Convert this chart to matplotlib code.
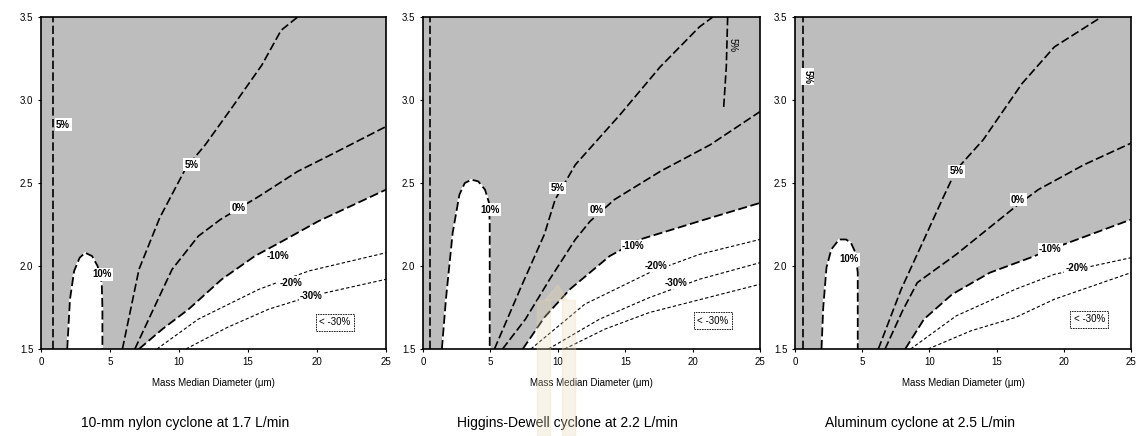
import matplotlib
matplotlib.use("Agg")
import matplotlib.pyplot as plt
from matplotlib.patches import Rectangle, Polygon

plt.rcParams['font.family'] = ['Liberation Sans', 'DejaVu Sans']

GRAY = '#bdbdbd'

titles = ['10-mm nylon cyclone at 1.7 L/min',
          'Higgins-Dewell cyclone at 2.2 L/min',
          'Aluminum cyclone at 2.5 L/min']
x_ticks = [0, 5, 10, 15, 20, 25]
y_ticks = [1.5, 2.0, 2.5, 3.0, 3.5]

# ---- panel 1: 10-mm nylon cyclone ----
p1_bubble_x = [1.9, 2.1, 2.4, 2.8, 3.2, 3.7, 4.1, 4.4, 4.45, 4.45]
p1_bubble_y = [1.5, 1.8, 1.97, 2.05, 2.08, 2.06, 2.0, 1.9, 1.75, 1.5]
p1_edge5_x = [0.85, 0.85]
p1_edge5_y = [1.5, 3.5]
p1_p5_x = [5.9, 7.1, 8.6, 9.8, 10.5, 11.9, 13.8, 16.0, 17.4, 18.6]
p1_p5_y = [1.5, 1.98, 2.29, 2.48, 2.59, 2.73, 2.95, 3.21, 3.42, 3.5]
p1_z0_x = [6.8, 8.2, 9.5, 11.4, 13.0, 15.8, 18.6, 21.0, 25.0]
p1_z0_y = [1.5, 1.75, 1.98, 2.18, 2.28, 2.42, 2.57, 2.67, 2.84]
p1_m10_x = [7.1, 8.8, 10.7, 13.1, 15.5, 17.5, 20.1, 25.0]
p1_m10_y = [1.5, 1.62, 1.74, 1.92, 2.06, 2.15, 2.27, 2.46]
p1_m20_x = [8.4, 11.4, 15.8, 19.4, 25.0]
p1_m20_y = [1.5, 1.68, 1.86, 1.97, 2.08]
p1_m30_x = [10.5, 13.5, 16.5, 19.6, 25.0]
p1_m30_y = [1.5, 1.63, 1.74, 1.82, 1.92]
p1_labels = ['5%', '5%', '0%', '-10%', '-20%', '-30%', '10%']
p1_label_x = [1.6, 10.9, 14.3, 17.2, 18.1, 19.6, 4.4]
p1_label_y = [2.85, 2.61, 2.35, 2.06, 1.9, 1.82, 1.95]
p1_box_xy = (21.3, 1.66)

# ---- panel 2: Higgins-Dewell cyclone ----
p2_bubble_x = [1.4, 1.7, 2.2, 2.7, 3.1, 3.6, 4.1, 4.6, 4.9, 4.95, 4.95]
p2_bubble_y = [1.5, 1.8, 2.2, 2.43, 2.5, 2.52, 2.51, 2.46, 2.38, 2.25, 1.5]
p2_edge5_x = [0.5, 0.5]
p2_edge5_y = [1.5, 3.5]
p2_top5_x = [22.6, 22.5, 22.3]
p2_top5_y = [3.5, 3.2, 2.95]
p2_p5_x = [5.3, 7.2, 9.0, 9.8, 11.3, 12.4, 14.6, 17.6, 20.5, 21.5]
p2_p5_y = [1.5, 1.86, 2.19, 2.4, 2.61, 2.71, 2.91, 3.2, 3.44, 3.5]
p2_z0_x = [5.9, 7.6, 9.4, 11.3, 12.4, 14.2, 17.6, 21.3, 25.0]
p2_z0_y = [1.5, 1.68, 1.92, 2.16, 2.27, 2.4, 2.57, 2.73, 2.93]
p2_m10_x = [7.4, 9.0, 10.9, 13.85, 16.1, 20.5, 25.0]
p2_m10_y = [1.5, 1.69, 1.86, 2.06, 2.16, 2.27, 2.38]
p2_m20_x = [8.0, 12.0, 16.8, 20.5, 25.0]
p2_m20_y = [1.5, 1.77, 1.96, 2.07, 2.16]
p2_m30_x = [9.3, 13.1, 16.8, 20.5, 25.0]
p2_m30_y = [1.5, 1.68, 1.81, 1.92, 2.02]
p2_m40_x = [10.5, 13.5, 16.8, 25.0]
p2_m40_y = [1.5, 1.62, 1.72, 1.89]
p2_labels = ['10%', '5%', '0%', '-10%', '-20%', '-30%']
p2_label_x = [4.96, 10.0, 12.9, 15.6, 17.3, 18.8]
p2_label_y = [2.34, 2.47, 2.34, 2.12, 2.0, 1.9]
p2_box_xy = (21.5, 1.67)

# ---- panel 3: Aluminum cyclone ----
p3_bubble_x = [1.97, 2.1, 2.34, 2.7, 3.28, 3.8, 4.16, 4.5, 4.67, 4.67]
p3_bubble_y = [1.5, 1.75, 1.99, 2.1, 2.16, 2.16, 2.14, 2.08, 1.96, 1.5]
p3_edge5_x = [0.6, 0.6]
p3_edge5_y = [1.5, 3.5]
p3_p5_x = [6.2, 7.9, 9.6, 10.95, 12.0, 14.0, 16.9, 19.3, 22.8]
p3_p5_y = [1.5, 1.86, 2.16, 2.4, 2.58, 2.76, 3.1, 3.32, 3.5]
p3_z0_x = [6.7, 8.0, 9.1, 12.0, 14.45, 16.6, 18.1, 21.5, 25.0]
p3_z0_y = [1.5, 1.73, 1.9, 2.07, 2.23, 2.37, 2.46, 2.61, 2.74]
p3_m10_x = [8.2, 9.6, 11.7, 14.5, 17.5, 20.0, 25.0]
p3_m10_y = [1.5, 1.68, 1.83, 1.96, 2.05, 2.13, 2.28]
p3_m20_x = [8.6, 12.0, 16.4, 19.3, 25.0]
p3_m20_y = [1.5, 1.7, 1.86, 1.95, 2.05]
p3_m30_x = [9.9, 13.1, 16.4, 19.3, 25.0]
p3_m30_y = [1.5, 1.61, 1.69, 1.8, 1.96]
p3_labels = ['10%', '5%', '0%', '-10%', '-20%']
p3_label_x = [4.0, 12.0, 16.6, 19.0, 21.0]
p3_label_y = [2.04, 2.57, 2.4, 2.1, 1.99]
p3_box_xy = (21.9, 1.68)

DASH = (0, (5, 2))
FINE = (0, (3, 2))


def draw_panel(ax, bubble_x, bubble_y, m10_x, m10_y, strong, faint,
               labels, label_x, label_y, box_xy):
    ax.set_facecolor(GRAY)
    # white areas: bias above +10% (bubble) and below -10%
    ax.fill_between(m10_x, m10_y, 1.5, color='white', zorder=1)
    ax.fill(bubble_x, bubble_y, color='white', zorder=1)
    ax.plot(bubble_x, bubble_y, color='black', lw=1.3, ls=DASH, zorder=3)
    ax.plot(m10_x, m10_y, color='black', lw=1.3, ls=DASH, zorder=3)
    for xs, ys in strong:
        ax.plot(xs, ys, color='black', lw=1.2, ls=DASH, zorder=3)
    for xs, ys in faint:
        ax.plot(xs, ys, color='black', lw=0.8, ls=FINE, zorder=3)
    for txt, lx, ly in zip(labels, label_x, label_y):
        ax.text(lx, ly, txt, fontsize=7, fontweight='bold', ha='center',
                va='center', zorder=4,
                bbox=dict(boxstyle='square,pad=0.15', fc='white', ec='none'))
    ax.text(box_xy[0], box_xy[1], '< -30%', fontsize=7, ha='center',
            va='center', zorder=4,
            bbox=dict(boxstyle='square,pad=0.35', fc='white', ec='black',
                      lw=0.6, ls=(0, (2, 1))))
    ax.set_xlim(0, 25)
    ax.set_ylim(1.5, 3.5)
    ax.set_xticks(x_ticks)
    ax.set_yticks(y_ticks)
    ax.set_yticklabels([f'{v:.1f}' for v in y_ticks])
    ax.tick_params(labelsize=7, length=2, width=0.8)
    for s in ax.spines.values():
        s.set_linewidth(1.2)
    ax.set_xlabel('Mass Median Diameter (\u03bcm)', fontsize=7, labelpad=8)


fig = plt.figure(figsize=(11.4, 4.36), dpi=100)
ax1 = fig.add_axes([41 / 1140, 0.1995, 345 / 1140, 0.7615])
ax2 = fig.add_axes([423 / 1140, 0.1995, 337 / 1140, 0.7615])
ax3 = fig.add_axes([795 / 1140, 0.1995, 336 / 1140, 0.7615])

draw_panel(ax1, p1_bubble_x, p1_bubble_y, p1_m10_x, p1_m10_y,
           [(p1_edge5_x, p1_edge5_y), (p1_p5_x, p1_p5_y), (p1_z0_x, p1_z0_y)],
           [(p1_m20_x, p1_m20_y), (p1_m30_x, p1_m30_y)],
           p1_labels, p1_label_x, p1_label_y, p1_box_xy)

draw_panel(ax2, p2_bubble_x, p2_bubble_y, p2_m10_x, p2_m10_y,
           [(p2_edge5_x, p2_edge5_y), (p2_top5_x, p2_top5_y),
            (p2_p5_x, p2_p5_y), (p2_z0_x, p2_z0_y)],
           [(p2_m20_x, p2_m20_y), (p2_m30_x, p2_m30_y), (p2_m40_x, p2_m40_y)],
           p2_labels, p2_label_x, p2_label_y, p2_box_xy)
ax2.text(23.0, 3.33, '5%', fontsize=7, rotation=-90, ha='center',
         va='center', zorder=4)

draw_panel(ax3, p3_bubble_x, p3_bubble_y, p3_m10_x, p3_m10_y,
           [(p3_edge5_x, p3_edge5_y), (p3_p5_x, p3_p5_y), (p3_z0_x, p3_z0_y)],
           [(p3_m20_x, p3_m20_y), (p3_m30_x, p3_m30_y)],
           p3_labels, p3_label_x, p3_label_y, p3_box_xy)
ax3.text(0.95, 3.14, '5%', fontsize=7, fontweight='bold', rotation=-90,
         ha='center', va='center', zorder=4,
         bbox=dict(boxstyle='square,pad=0.15', fc='white', ec='none'))

# captions under each panel
for cx, t in zip([185, 567, 920], titles):
    fig.text(cx / 1140, 1 - 423 / 436, t, fontsize=10, ha='center',
             va='center')

# faint watermark from the scanned page
wm = '#e8d8b4'
for x0 in (537, 562):
    fig.patches.append(Rectangle((x0 / 1140, 0), 13 / 1140, 1 - 300 / 436,
                                 transform=fig.transFigure, color=wm,
                                 alpha=0.3, zorder=5))
fig.patches.append(Polygon([(545 / 1140, 1 - 300 / 436),
                            (558 / 1140, 1 - 285 / 436),
                            (567 / 1140, 1 - 300 / 436)],
                           transform=fig.transFigure, color=wm,
                           alpha=0.3, zorder=5))

fig.savefig('out.png', dpi=100)
